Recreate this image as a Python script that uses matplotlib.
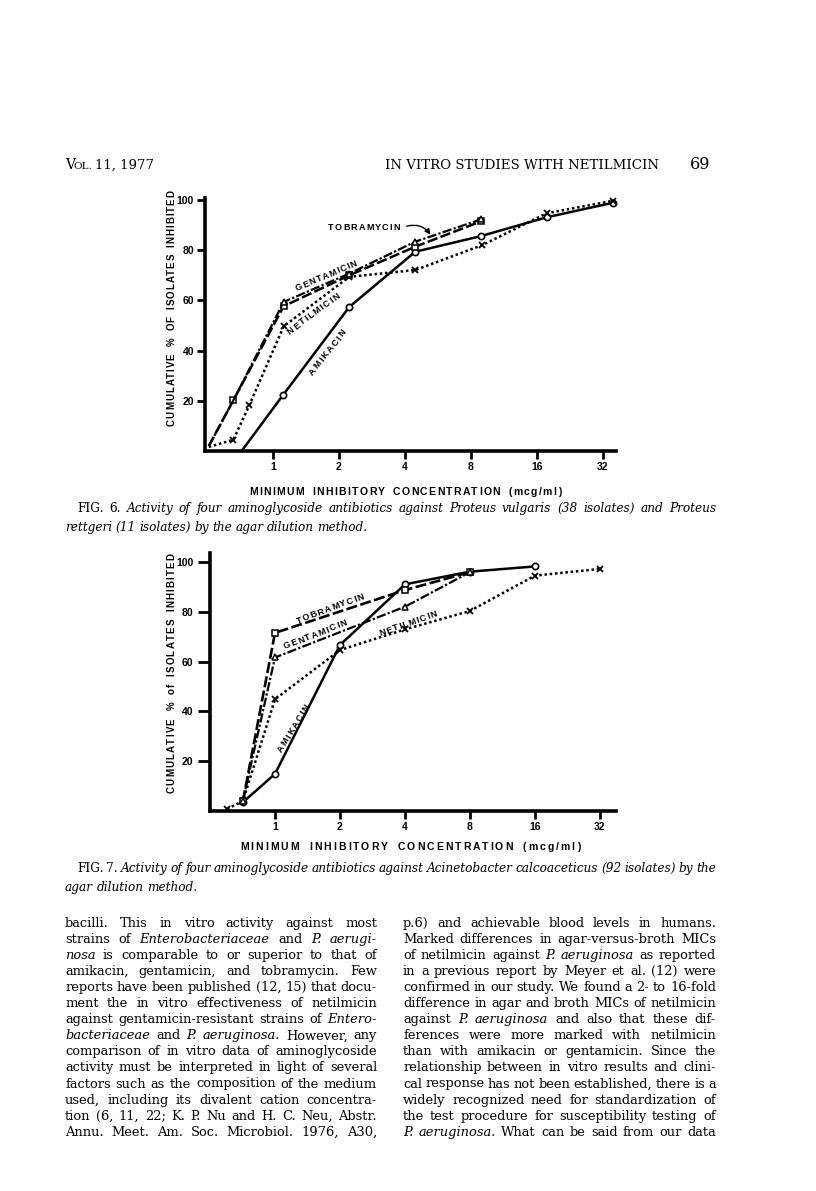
import numpy as np
import matplotlib.pyplot as plt
from matplotlib.font_manager import FontProperties

# ---------------- data ----------------
tick_vals = [1, 2, 4, 8, 16, 32]
tick_labels = ['1', '2', '4', '8', '16', '32']
y_ticks = [20, 40, 60, 80, 100]

# Fig. 6 - Proteus
f6_amik_x = [0.72, 1.11, 2.23, 4.46, 8.87, 17.7, 35.5]
f6_amik_y = [0, 22.2, 57.4, 79.4, 85.6, 93.1, 98.9]
f6_neti_x = [0.51, 0.66, 0.78, 1.12, 2.23, 4.46, 9.0, 17.7, 35.5]
f6_neti_y = [1.6, 4.5, 18.2, 49.7, 69.4, 72.1, 82.0, 94.7, 99.7]
f6_tobr_x = [0.51, 0.66, 1.12, 2.23, 4.46, 8.9]
f6_tobr_y = [2.0, 20.2, 57.7, 70.0, 81.4, 91.5]
f6_gent_x = [0.51, 0.66, 1.12, 2.23, 4.46, 8.9]
f6_gent_y = [2.0, 20.2, 59.4, 70.7, 83.4, 92.3]

# Fig. 7 - Acinetobacter
f7_amik_x = [0.71, 1, 2, 4, 8, 16]
f7_amik_y = [3.5, 14.9, 66.7, 91.1, 96.2, 98.3]
f7_tobr_x = [0.71, 1, 4, 8]
f7_tobr_y = [3.9, 71.6, 88.8, 96.0]
f7_gent_x = [0.71, 1, 4, 8]
f7_gent_y = [4.2, 61.7, 82.1, 96.0]
f7_neti_x = [0.6, 0.71, 1, 2, 4, 8, 16, 32]
f7_neti_y = [0.8, 4.0, 44.9, 64.7, 73.0, 80.4, 94.6, 97.3]

left_col = [
    "bacilli. This in vitro activity against most",
    "strains of _Enterobacteriaceae and _P. _aerugi-",
    "_nosa is comparable to or superior to that of",
    "amikacin, gentamicin, and tobramycin. Few",
    "reports have been published (12, 15) that docu-",
    "ment the in vitro effectiveness of netilmicin",
    "against gentamicin-resistant strains of _Entero-",
    "_bacteriaceae and _P. _aeruginosa. However, any",
    "comparison of in vitro data of aminoglycoside",
    "activity must be interpreted in light of several",
    "factors such as the composition of the medium",
    "used, including its divalent cation concentra-",
    "tion (6, 11, 22; K. P. Nu and H. C. Neu, Abstr.",
    "Annu. Meet. Am. Soc. Microbiol. 1976, A30,",
]
right_col = [
    "p.6) and achievable blood levels in humans.",
    "Marked differences in agar-versus-broth MICs",
    "of netilmicin against _P. _aeruginosa as reported",
    "in a previous report by Meyer et al. (12) were",
    "confirmed in our study. We found a 2- to 16-fold",
    "difference in agar and broth MICs of netilmicin",
    "against _P. _aeruginosa and also that these dif-",
    "ferences were more marked with netilmicin",
    "than with amikacin or gentamicin. Since the",
    "relationship between in vitro results and clini-",
    "cal response has not been established, there is a",
    "widely recognized need for standardization of",
    "the test procedure for susceptibility testing of",
    "_P. _aeruginosa. What can be said from our data",
]
cap6 = ["_FIG. _6. Activity of four aminoglycoside antibiotics against Proteus vulgaris (38 isolates) and Proteus",
        "rettgeri (11 isolates) by the agar dilution method."]
cap7 = ["_FIG. _7. Activity of four aminoglycoside antibiotics against Acinetobacter calcoaceticus (92 isolates) by the",
        "agar dilution method."]

# ---------------- page setup ----------------
W, H = 816, 1191
fig = plt.figure(figsize=(W / 100, H / 100), dpi=100)
fig.patch.set_facecolor('white')
renderer = fig.canvas.get_renderer()

SANS = 'Liberation Sans'
SERIF = 'DejaVu Serif'


def width(s, size, family=SERIF, style='normal', weight='normal'):
    fp = FontProperties(family=family, size=size, style=style, weight=weight)
    return renderer.get_text_width_height_descent(s, fp, ismath=False)[0]


def tokens(line, base):
    out = []
    other = 'italic' if base == 'normal' else 'normal'
    for w in line.split():
        if w.startswith('_'):
            out.append((w[1:], other))
        else:
            out.append((w, base))
    return out


def natural(line, size, base='normal'):
    tk = tokens(line, base)
    return sum(width(w, size, style=s) for w, s in tk) + 0.22 * size * 100 / 72 * (len(tk) - 1)


def justify(line, x0, x1, y, size, base='normal', full=True):
    tk = tokens(line, base)
    ws = [width(w, size, style=s) for w, s in tk]
    if full and len(tk) > 1:
        gap = (x1 - x0 - sum(ws)) / (len(tk) - 1)
    else:
        gap = 0.28 * size * 100 / 72
    x = x0
    for (w, s), wd in zip(tk, ws):
        fig.text(x / W, 1 - y / H, w, fontsize=size, family=SERIF, style=s,
                 ha='left', va='baseline')
        x += wd + gap


def tracked(s, x, y, size, length, angle=0.0, center=True):
    # letter-spaced bold sans text; (x, y) in image pixels, visual centre
    ws = [width(c, size, SANS, weight='bold') if c != ' ' else 0.3 * size for c in s]
    track = (length - sum(ws)) / (len(s) - 1)
    a = np.radians(angle)
    dx, dy = np.cos(a), np.sin(a)
    X, Y = x, H - y
    cap = 0.72 * size * 100 / 72
    # move from visual centre to baseline
    X += cap / 2 * dy
    Y -= cap / 2 * dx
    if center:
        X -= length / 2 * dx
        Y -= length / 2 * dy
    for c, wd in zip(s, ws):
        if c != ' ':
            fig.text(X / W, Y / H, c, fontsize=size, family=SANS, weight='bold',
                     rotation=angle, rotation_mode='anchor', ha='left', va='baseline')
        X += (wd + track) * dx
        Y += (wd + track) * dy


def setup_axes(rect, xlim, ylim):
    ax = fig.add_axes(rect)
    ax.set_facecolor('none')
    ax.set_xscale('log', base=2)
    ax.set_xlim(*xlim)
    ax.set_ylim(*ylim)
    ax.set_xticks(tick_vals)
    ax.set_xticklabels(tick_labels)
    ax.xaxis.set_minor_locator(plt.NullLocator())
    ax.set_yticks(y_ticks)
    for side in ['top', 'right']:
        ax.spines[side].set_visible(False)
    for side in ['left', 'bottom']:
        ax.spines[side].set_linewidth(2.6)
    ax.tick_params(axis='both', direction='out', length=6, width=2.0, pad=2)
    for lab in ax.get_xticklabels() + ax.get_yticklabels():
        lab.set_fontfamily(SANS)
        lab.set_fontweight('bold')
        lab.set_fontsize(7.5)
    return ax


dotted = (0, (1, 1.1))
longdash = (0, (4.2, 1.3))
dashdot = (0, (4.2, 1.0, 1.0, 1.0))

# ---------------- Fig. 6 ----------------
ax1 = setup_axes([205 / W, 1 - 451 / H, 411 / W, 253 / H], (0.49, 36.7), (0, 100.8))
ax1.plot(f6_amik_x, f6_amik_y, '-', color='k', lw=1.8, marker='o', ms=4.5, mfc='white',
         mec='k', mew=1.2, markevery=list(range(1, len(f6_amik_x))), clip_on=False)
ax1.plot(f6_neti_x, f6_neti_y, linestyle=dotted, color='k', lw=1.8, marker='x', ms=4.5,
         mew=1.3, markevery=list(range(1, len(f6_neti_x))), clip_on=False)
ax1.plot(f6_tobr_x, f6_tobr_y, linestyle=longdash, color='k', lw=1.8, marker='s', ms=4,
         mfc='white', mec='k', mew=1.1, markevery=list(range(1, len(f6_tobr_x))), clip_on=False)
ax1.plot(f6_gent_x, f6_gent_y, linestyle=dashdot, color='k', lw=1.6, marker='^', ms=4.5,
         mfc='white', mec='k', mew=1.1, markevery=list(range(2, len(f6_gent_x))), clip_on=False)

tracked('TOBRAMYCIN', 364, 227, 6.5, 72)
ax1.annotate('', xy=(432 / W, 1 - 237 / H), xytext=(404 / W, 1 - 227 / H),
             xycoords='figure fraction', textcoords='figure fraction',
             arrowprops=dict(arrowstyle='-|>', connectionstyle='arc3,rad=-0.4',
                             lw=1.0, color='k', mutation_scale=8))
tracked('GENTAMICIN', 326, 275, 6.5, 66, angle=23)
tracked('NETILMICIN', 313, 313, 6.5, 63, angle=37)
tracked('AMIKACIN', 327, 352, 6.5, 55, angle=52)
tracked('CUMULATIVE  %  OF  ISOLATES  INHIBITED', 171, 308, 7, 235, angle=90)
tracked('MINIMUM  INHIBITORY  CONCENTRATION  (mcg/ml)', 405, 491, 7.5, 312)

# ---------------- Fig. 7 ----------------
ax2 = setup_axes([210 / W, 1 - 811 / H, 406 / W, 258 / H], (0.5, 38), (0, 103.7))
ax2.tick_params(axis='y', length=9, pad=3)
ax2.plot(f7_amik_x, f7_amik_y, '-', color='k', lw=1.8, marker='o', ms=4.5, mfc='white',
         mec='k', mew=1.2, clip_on=False)
ax2.plot(f7_neti_x, f7_neti_y, linestyle=dotted, color='k', lw=1.8, marker='x', ms=4.5,
         mew=1.3, clip_on=False)
ax2.plot(f7_tobr_x, f7_tobr_y, linestyle=longdash, color='k', lw=1.9, marker='s', ms=4,
         mfc='white', mec='k', mew=1.1, clip_on=False)
ax2.plot(f7_gent_x, f7_gent_y, linestyle=dashdot, color='k', lw=1.6, marker='^', ms=4.5,
         mfc='white', mec='k', mew=1.1, clip_on=False)

tracked('TOBRAMYCIN', 330, 608, 6.5, 71, angle=20.6)
tracked('GENTAMICIN', 315, 634, 6.5, 67, angle=21.7)
tracked('NETILMICIN', 408, 623, 6.5, 60, angle=19.4)
tracked('AMIKACIN', 293, 728, 6.5, 55, angle=58.7)
tracked('CUMULATIVE  %  of  ISOLATES  INHIBITED', 171, 673, 7, 240, angle=90)
tracked('MINIMUM  INHIBITORY  CONCENTRATION  (mcg/ml)', 410, 846, 7.5, 340)

# ---------------- page text ----------------
fig.text(65 / W, 1 - 169 / H, 'V', fontsize=10, family=SERIF, va='baseline')
fig.text(73 / W, 1 - 169 / H, 'OL.', fontsize=7.5, family=SERIF, va='baseline')
fig.text(95 / W, 1 - 169 / H, '11, 1977', fontsize=9.5, family=SERIF, va='baseline')
fig.text(385 / W, 1 - 169 / H, 'IN VITRO STUDIES WITH NETILMICIN', fontsize=9.6,
         family=SERIF, va='baseline')
fig.text(690 / W, 1 - 169 / H, '69', fontsize=11.5, family=SERIF, va='baseline')

# body font size: largest that lets every line fit its column
col_w = 312
body = 10.8
while max(natural(l, body) for l in left_col + right_col) > col_w:
    body -= 0.1
cap_size = 10.5
while natural(cap6[0], cap_size, 'italic') > 639 or natural(cap7[0], cap_size, 'italic') > 639:
    cap_size -= 0.1

justify(cap6[0], 77, 716, 512, cap_size, base='italic')
justify(cap6[1], 65, 716, 531, cap_size, base='italic', full=False)
justify(cap7[0], 77, 716, 872, cap_size, base='italic')
justify(cap7[1], 65, 716, 891, cap_size, base='italic', full=False)

for i, line in enumerate(left_col):
    justify(line, 65, 377, 927 + 16.05 * i, body)
for i, line in enumerate(right_col):
    justify(line, 403, 716, 927 + 16.05 * i, body)

fig.savefig('out.png', dpi=100, facecolor='white')
